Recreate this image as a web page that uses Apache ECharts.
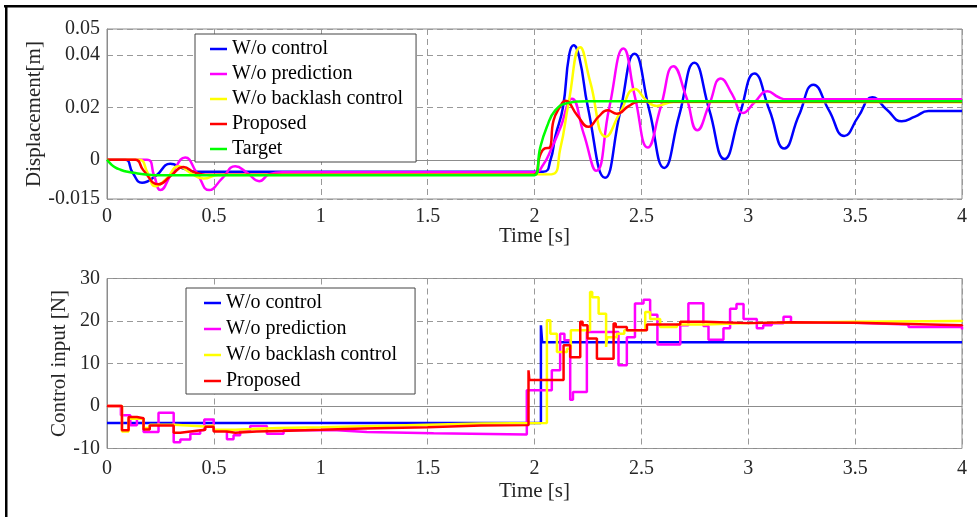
<!DOCTYPE html>
<html>
<head>
<meta charset="utf-8">
<script src="https://cdn.jsdelivr.net/npm/echarts@6/dist/echarts.min.js"></script>
<style>
  html, body { margin: 0; padding: 0; background: #fff; }
  #chart { width: 977px; height: 517px; }
</style>
</head>
<body>
<div id="chart"></div>
<script>
// legend names
var names = ['W/o control', 'W/o prediction', 'W/o backlash control', 'Proposed', 'Target'];
var colors = ['#0000ff', '#ff00ff', '#ffff00', '#ff0000', '#00ff00'];

// top plot tick labels
var dispTicks = [-0.015, 0, 0.02, 0.04, 0.05];

// displacement [t, m]
var dispBlue = [[0,0],[0.086,0],[0.12,-0.005],[0.164,-0.0088],[0.23,-0.006],[0.296,-0.0015],[0.36,-0.0035],[0.42,-0.0046],
  [2.04,-0.0046],[2.075,0.0],[2.097,0.0088],[2.133,0.02],[2.162,0.04],[2.183,0.0438],[2.21,0.039],[2.25,0.02],[2.33,-0.0069],
  [2.40,0.018],[2.468,0.0405],[2.537,0.019],[2.607,-0.0031],[2.677,0.017],[2.748,0.0371],[2.818,0.019],[2.889,0.0003],
  [2.959,0.017],[3.029,0.033],[3.099,0.019],[3.169,0.0043],[3.237,0.017],[3.305,0.0287],[3.377,0.019],[3.449,0.0091],
  [3.515,0.0165],[3.581,0.0239],[3.65,0.019],[3.718,0.0147],[3.78,0.0165],[3.843,0.0186],[4,0.0186]];
var dispMagenta = [[0,0],[0.187,0],[0.22,-0.006],[0.25,-0.0116],[0.305,-0.005],[0.366,0.0009],[0.42,-0.005],[0.478,-0.0116],
  [0.54,-0.007],[0.6,-0.0025],[0.656,-0.005],[0.712,-0.0082],[0.76,-0.0055],[0.82,-0.0048],[2.0,-0.0048],[2.04,-0.002],
  [2.08,0.0044],[2.12,0.012],[2.175,0.0233],[2.23,0.01],[2.289,-0.0042],[2.35,0.02],[2.416,0.0425],[2.47,0.024],[2.53,0.0047],
  [2.59,0.02],[2.65,0.0358],[2.71,0.024],[2.762,0.0113],[2.817,0.021],[2.872,0.0311],[2.925,0.025],[2.975,0.0179],
  [3.03,0.022],[3.09,0.0262],[3.14,0.024],[3.18,0.0231],[4,0.0231]];
var dispYellow = [[0,0],[0.15,0],[0.19,-0.005],[0.226,-0.0101],[0.28,-0.007],[0.335,-0.0025],[0.39,-0.005],[0.452,-0.0072],
  [0.52,-0.0058],[2.08,-0.0055],[2.12,0.004],[2.16,0.022],[2.214,0.043],[2.26,0.03],[2.335,0.0088],[2.40,0.018],
  [2.471,0.0271],[2.52,0.023],[2.572,0.0206],[2.65,0.0221],[4,0.022]];
var dispRed = [[0,0],[0.133,0],[0.17,-0.004],[0.241,-0.0094],[0.3,-0.006],[0.358,-0.0028],[0.41,-0.0048],[0.46,-0.0057],
  [1.995,-0.0057],[2.027,0.0019],[2.05,0.0044],[2.07,0.0046],[2.089,0.015],[2.12,0.0204],[2.144,0.0226],[2.2,0.017],
  [2.253,0.0126],[2.3,0.0165],[2.342,0.0189],[2.385,0.0176],[2.44,0.0205],[2.487,0.0222],[4,0.0222]];
var dispGreen = [[0,0],[0.02,-0.0018],[0.04,-0.003],[0.063,-0.0038],[0.09,-0.0045],[0.125,-0.005],[0.18,-0.0056],
  [0.25,-0.0059],[2.0,-0.0059],[2.026,0.0044],[2.058,0.0126],[2.097,0.0189],[2.151,0.0216],[2.245,0.0224],[4,0.0224]];

// control input [t, N], zero-order hold
var ctrlBlue = [[0,-4],[2.03,19],[2.036,15],[4,15]];
var ctrlMagenta = [[0,0],[0.065,-2.2],[0.109,-4.5],[0.14,-3.0],[0.171,-6.1],[0.241,-1.6],[0.312,-8.5],[0.343,-7.9],
  [0.39,-6.5],[0.436,-5.7],[0.455,-3.2],[0.499,-5.7],[0.561,-7.8],[0.592,-6.9],[0.623,-5.7],[0.67,-4.7],[0.748,-6.5],
  [0.826,-5.7],[1.076,-6.1],[1.216,-6.4],[1.528,-6.7],[1.964,3.7],[2.081,8.4],[2.12,17.0],[2.14,15.5],[2.167,1.5],
  [2.18,3.3],[2.245,17.4],[2.393,9.6],[2.432,16.2],[2.47,24.1],[2.51,25.0],[2.541,21.5],[2.575,14.5],[2.682,19],
  [2.72,24.2],[2.79,18.8],[2.814,15.6],[2.884,18.3],[2.915,22.9],[2.945,24.0],[2.978,20.5],[3.04,18.3],[3.07,19.0],
  [3.11,19.5],[3.165,21.0],[3.2,19.6],[3.5,19.2],[3.75,18.6],[4,18.0]];
var ctrlYellow = [[0,0],[0.07,-6.0],[0.101,-3.0],[0.171,-5.2],[0.2,-4.4],[0.312,-4.8],[0.46,-4.6],[0.499,-5.6],[0.6,-5.2],
  [0.8,-5.0],[1.0,-4.7],[1.25,-4.4],[1.5,-4.1],[1.75,-4.0],[2.058,20.2],[2.074,17.0],[2.105,12.7],[2.152,13.5],[2.17,17.8],
  [2.26,26.8],[2.27,25.6],[2.3,21.7],[2.335,13.9],[2.34,16.2],[2.385,17.0],[2.42,17.8],[2.518,22.1],[2.541,20.5],
  [2.588,18.6],[2.666,19.2],[2.8,19.5],[3.0,19.8],[3.5,20.0],[4,20.2]];
var ctrlRed = [[0,0],[0.07,-5.7],[0.101,-2.6],[0.14,-2.9],[0.171,-5.5],[0.2,-4.6],[0.312,-6.3],[0.343,-6.0],[0.39,-5.6],
  [0.46,-4.9],[0.499,-6.0],[0.56,-6.3],[0.6,-6.0],[0.7,-5.8],[0.85,-5.6],[1.0,-5.3],[1.2,-5.0],[1.5,-4.6],[1.75,-4.5],
  [1.972,8.4],[1.976,6.1],[2.136,14.3],[2.167,11.5],[2.214,19.8],[2.225,19.0],[2.248,15.9],[2.292,11.1],[2.37,19.4],
  [2.38,18.6],[2.432,17.8],[2.526,19.2],[2.682,19.8],[2.8,19.5],[3.0,19.7],[3.2,19.6],[3.5,19.3],[3.75,19.0],[4,18.75]];

var font = 'Liberation Serif';
var chart = echarts.init(document.getElementById('chart'));

function xAx(grid, labelMargin, nameGap) {
    return {
        type: 'value', gridIndex: grid, min: 0, max: 4, interval: 0.5,
        axisLine: { show: true, lineStyle: { color: '#8c8c8c' } },
        axisTick: { show: false },
        axisLabel: { fontFamily: font, fontSize: 20, color: '#262626', margin: labelMargin },
        splitLine: { show: true, lineStyle: { color: '#999', type: [6, 4] } },
        name: 'Time [s]', nameLocation: 'middle', nameGap: nameGap, nameMoveOverlap: false,
        nameTextStyle: { fontFamily: font, fontSize: 21, color: '#262626' }
    };
}

function line(name, color, data, xi, step) {
    return {
        name: name, type: 'line', xAxisIndex: xi, yAxisIndex: xi, data: data,
        showSymbol: false, symbol: 'none', smooth: step ? false : 0.5, step: step ? 'end' : false,
        lineStyle: { color: color, width: 2.5 }, itemStyle: { color: color }, clip: true
    };
}

var legendBase = {
    orient: 'vertical', icon: 'rect', itemWidth: 17, itemHeight: 2.5,
    backgroundColor: '#fff', borderColor: '#444', borderWidth: 1,
    textStyle: { fontFamily: font, fontSize: 20, color: '#000' }, selectedMode: false
};

var option = {
    animation: false,
    backgroundColor: '#fff',
    grid: [
        { left: 107, top: 29, width: 855, height: 170, show: true, borderColor: '#8c8c8c', borderWidth: 1 },
        { left: 107, top: 278.5, width: 855, height: 170, show: true, borderColor: '#8c8c8c', borderWidth: 1 }
    ],
    xAxis: [xAx(0, 8, 27), xAx(1, 10, 32)],
    yAxis: [
        {
            type: 'value', gridIndex: 0, min: -0.015, max: 0.05,
            axisLine: { show: true, lineStyle: { color: '#8c8c8c' } },
            axisTick: { show: false, customValues: dispTicks },
            axisLabel: { customValues: dispTicks, fontFamily: font, fontSize: 20, color: '#262626', margin: 7 },
            splitLine: { show: true, lineStyle: { color: '#999', type: [6, 4] } },
            name: 'Displacement[m]', nameLocation: 'middle', nameGap: 62, nameMoveOverlap: false,
            nameTextStyle: { fontFamily: font, fontSize: 21, color: '#262626' }
        },
        {
            type: 'value', gridIndex: 1, min: -10, max: 30, interval: 10,
            axisLine: { show: true, lineStyle: { color: '#8c8c8c' } },
            axisTick: { show: false },
            axisLabel: { fontFamily: font, fontSize: 20, color: '#262626', margin: 7 },
            splitLine: { show: true, lineStyle: { color: '#999', type: [6, 4] } },
            name: 'Control input [N]', nameLocation: 'middle', nameGap: 37, nameMoveOverlap: false,
            nameTextStyle: { fontFamily: font, fontSize: 21, color: '#262626' }
        }
    ],
    legend: [
        Object.assign({}, legendBase, { left: 195, top: 34, itemGap: 5, padding: [5, 13, 3, 15], data: names }),
        Object.assign({}, legendBase, { left: 186, top: 288, itemGap: 6, padding: [5, 18, 3, 18], data: names.slice(0, 4) })
    ],
    graphic: [
        { type: 'rect', shape: { x: 4, y: 5, width: 973, height: 2.5 }, style: { fill: '#000' }, silent: true },
        { type: 'rect', shape: { x: 5, y: 5, width: 2.5, height: 512 }, style: { fill: '#000' }, silent: true }
    ],
    series: [
        line(names[0], colors[0], dispBlue, 0),
        line(names[1], colors[1], dispMagenta, 0),
        line(names[2], colors[2], dispYellow, 0),
        line(names[3], colors[3], dispRed, 0),
        line(names[4], colors[4], dispGreen, 0),
        line(names[0], colors[0], ctrlBlue, 1, true),
        line(names[1], colors[1], ctrlMagenta, 1, true),
        line(names[2], colors[2], ctrlYellow, 1, true),
        line(names[3], colors[3], ctrlRed, 1, true)
    ]
};
chart.setOption(option);
</script>
</body>
</html>
